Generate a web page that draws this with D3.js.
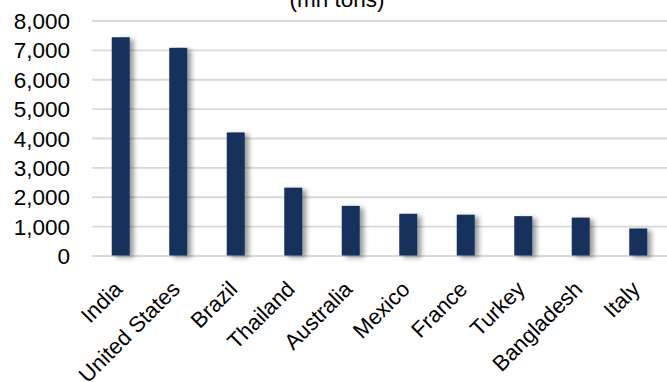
<!DOCTYPE html>
<html>
<head>
<meta charset="utf-8">
<script src="https://cdn.jsdelivr.net/npm/d3@7"></script>
<style>
  html, body { margin: 0; padding: 0; background: #fff; }
  svg { display: block; font-family: "Liberation Sans", Arial, sans-serif; }
</style>
</head>
<body>
<svg id="chart" width="667" height="382"></svg>
<script>
// Production by country (mn tons)
const countries = ["India", "United States", "Brazil", "Thailand", "Australia",
                   "Mexico", "France", "Turkey", "Bangladesh", "Italy"];
const production = [7430, 7070, 4190, 2310, 1690, 1420, 1390, 1340, 1290, 920];
const yTicks = [0, 1000, 2000, 3000, 4000, 5000, 6000, 7000, 8000];
const titleText = "(mn tons)";

const svg = d3.select("#chart");
const plot = { left: 92, right: 667, top: 20.5, bottom: 255.5 };

const x = d3.scaleBand().domain(countries).range([plot.left, plot.right]).paddingInner(0).paddingOuter(0);
const y = d3.scaleLinear().domain([0, 8000]).range([plot.bottom, plot.top]);

// soft shadow under the bars
const defs = svg.append("defs");
const f = defs.append("filter").attr("id", "shadow")
  .attr("x", "-50%").attr("y", "-10%").attr("width", "200%").attr("height", "130%");
f.append("feDropShadow").attr("dx", 4).attr("dy", 2).attr("stdDeviation", 2.4)
  .attr("flood-color", "#000").attr("flood-opacity", 0.4);

// title (runs off the top edge)
svg.append("text").attr("x", 337).attr("y", 7)
  .attr("text-anchor", "middle").attr("font-size", 22.5).attr("fill", "#000")
  .text(titleText);

// gridlines and value labels
const yAxis = d3.axisLeft(y).tickValues(yTicks).tickSize(0).tickPadding(0)
  .tickFormat(d3.format(","));
const gy = svg.append("g").attr("transform", `translate(${plot.left},0)`).call(yAxis);
gy.select(".domain").remove();
gy.selectAll(".tick line").remove();
gy.selectAll(".tick").append("line")
  .attr("x1", 0).attr("x2", plot.right - plot.left)
  .attr("stroke", "#d9d9d9").attr("stroke-width", 1.8);
gy.selectAll(".tick text")
  .attr("x", -22).attr("dy", "0.36em")
  .attr("font-size", 22.5).attr("fill", "#000")
  .attr("font-family", "Liberation Sans, Arial, sans-serif");

// bars
const barW = 18;
svg.append("g").selectAll("rect").data(countries).join("rect")
  .attr("x", d => x(d) + x.bandwidth() / 2 - barW / 2)
  .attr("width", barW)
  .attr("y", (d, i) => y(production[i]))
  .attr("height", (d, i) => y(0) - y(production[i]))
  .attr("fill", "#17325b")
  .attr("filter", "url(#shadow)");

// category labels, rotated
const xAxis = d3.axisBottom(x).tickSize(0).tickPadding(0);
const gx = svg.append("g").attr("transform", `translate(0,${plot.bottom})`).call(xAxis);
gx.select(".domain").remove();
gx.selectAll(".tick text")
  .attr("text-anchor", "end")
  .attr("font-size", 22).attr("fill", "#000")
  .attr("font-family", "Liberation Sans, Arial, sans-serif")
  .attr("x", 0).attr("y", 0).attr("dy", 0)
  .attr("transform", "translate(3,35) rotate(-45)");
</script>
</body>
</html>
